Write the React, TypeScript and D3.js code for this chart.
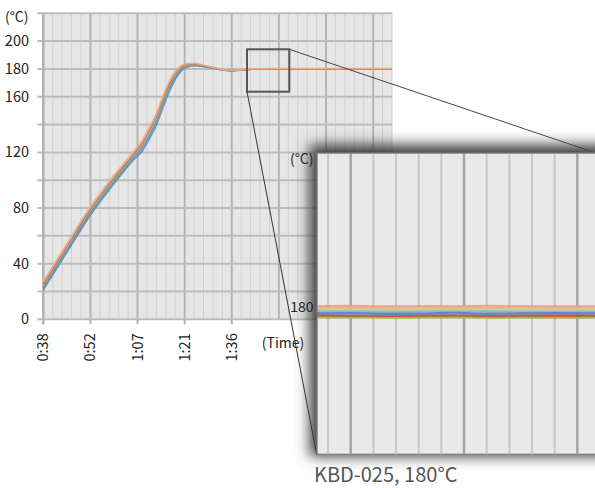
import React from "react";
import * as d3 from "d3";

// ---------- main chart data ----------
const times = [38, 45, 52, 59, 66, 68.5, 70.5, 72.5, 74.5, 76.5, 78.5, 80.5, 82.5, 84.5, 87, 90, 93, 96, 99, 102, 110, 120, 130, 145.3];
const sBlue = [21, 47, 73, 95, 115, 121, 129, 138, 150, 162, 172, 178.5, 181.5, 182.3, 181.8, 180.6, 179.3, 178.7, 179.1, 179.7, 179.9, 179.9, 179.9, 179.9];
const sAqua = [22, 48, 74, 96, 116, 122.5, 130.5, 139.5, 151.5, 163.5, 173, 179.2, 181.9, 182.6, 182, 180.7, 179.3, 178.7, 179.1, 179.8, 180, 180, 180, 180];
const sPurple = [23, 49, 75, 97, 117, 124, 132, 141, 153, 165, 174, 180, 182.2, 182.8, 182.1, 180.7, 179.4, 178.8, 179.2, 179.8, 180, 180, 180, 180];
const sGreen = [24, 50, 76, 98, 118, 125, 133, 142, 154, 166, 175, 180.5, 182.5, 183, 182.2, 180.8, 179.4, 178.8, 179.2, 179.8, 180, 180, 180, 180];
const sGray = [25, 51, 77, 99, 119, 126, 134.5, 143.5, 155.5, 167.5, 176, 181, 182.8, 183.3, 182.4, 180.9, 179.5, 178.9, 179.3, 179.9, 180.1, 180.1, 180.1, 180.1];
const sRed = [25.5, 51.5, 77.5, 99.5, 119.5, 127, 135.5, 144.5, 156.5, 168, 176.5, 181.5, 183.2, 183.5, 182.5, 181, 179.5, 178.9, 179.3, 179.9, 180.1, 180.1, 180.1, 180.1];
const sTan = [26.5, 52.5, 78.5, 100.5, 120.5, 128, 136.5, 145.5, 157.5, 169, 177.2, 182, 183.6, 183.8, 182.7, 181.1, 179.6, 179, 179.4, 180, 180.2, 180.2, 180.2, 180.2];
const sOrange = [27.5, 53.5, 79.5, 101.5, 121.5, 129, 137.5, 146.5, 158.5, 170, 178, 182.5, 184, 184.2, 183, 181.2, 179.7, 179.1, 179.5, 180.1, 180.3, 180.3, 180.3, 180.3];
const mainSeries = [
  { color: "#4F81BD", values: sBlue },
  { color: "#4BACC6", values: sAqua },
  { color: "#8064A2", values: sPurple },
  { color: "#9BBB59", values: sGreen },
  { color: "#A5A5A5", values: sGray },
  { color: "#C0504D", values: sRed },
  { color: "#D2B8A0", values: sTan },
  { color: "#F0A878", values: sOrange },
];
const xTickValues = [38, 52.5, 67, 81.5, 96];
const xTickLabels = ["0:38", "0:52", "1:07", "1:21", "1:36"];
const yGridValues = [0, 20, 40, 60, 80, 100, 120, 140, 160, 180, 200, 220];
const yTickLabels = [0, 40, 80, 120, 160, 180, 200];

// ---------- inset data ----------
const insetX = [0, 1.5, 3, 4.5, 6, 7.5, 9, 10.5, 12.5];
const iSalmon = [180.015, 180.02, 180.012, 180.018, 180.014, 180.02, 180.016, 180.012, 180.015];
const iOrange = [180.0, 180.005, 179.998, 180.004, 180.0, 179.996, 180.004, 180.0, 180.002];
const iTan = [179.985, 179.99, 179.982, 179.988, 179.984, 179.99, 179.982, 179.986, 179.984];
const iLightGreen = [179.97, 179.966, 179.972, 179.968, 179.974, 179.966, 179.97, 179.968, 179.972];
const iGray = [179.955, 179.95, 179.958, 179.952, 179.956, 179.95, 179.954, 179.958, 179.952];
const iLightBlue = [179.94, 179.945, 179.935, 179.942, 179.938, 179.944, 179.936, 179.94, 179.935];
const iBlue = [179.92, 179.925, 179.915, 179.918, 179.926, 179.916, 179.92, 179.925, 179.918];
const iLavender = [179.905, 179.9, 179.91, 179.902, 179.898, 179.908, 179.9, 179.905, 179.9];
const iRed = [179.89, 179.885, 179.882, 179.888, 179.892, 179.884, 179.886, 179.89, 179.885];
const iOrange2 = [179.878, 179.875, 179.88, 179.872, 179.876, 179.874, 179.87, 179.878, 179.875];
const iGreen = [179.86, 179.862, 179.858, 179.86, 179.862, 179.858, 179.86, 179.858, 179.86];
const insetSeries = [
  { color: "#9D8EC6", values: iLavender },
  { color: "#AAAAAA", values: iGray },
  { color: "#B8D48E", values: iLightGreen },
  { color: "#D9C48E", values: iTan },
  { color: "#8DB4E2", values: iLightBlue },
  { color: "#4F81BD", values: iBlue },
  { color: "#E46C0A", values: iOrange2 },
  { color: "#C0504D", values: iRed },
  { color: "#F4B183", values: iOrange },
  { color: "#E8A090", values: iSalmon },
  { color: "#9BBB59", values: iGreen },
];
const insetGrid = [0.5, 1.5, 2.5, 3.5, 4.5, 5.5, 6.5, 7.5, 8.5, 9.5, 10.5, 11.5, 12.5];
const insetMajor = [1.5, 6.5, 11.5];

const FONT = "'Noto Sans CJK JP', 'Noto Sans', sans-serif";

export default function App() {
  const W = 595, H = 488;
  const L = 43.3, R = 392, T = 13.3, B = 319.3;
  const x = d3.scaleLinear().domain([38, 145.3]).range([L, R]);
  const y = d3.scaleLinear().domain([0, 220]).range([B, T]);
  const minorStep = 2.9;
  const minorX = d3.range(0, 38).map((k) => 38 + k * minorStep);

  const line = d3
    .line<number>()
    .x((_, i) => x(times[i]))
    .y((d) => y(d))
    .curve(d3.curveMonotoneX);

  // inset
  const iL = 316.7, iT = 152.7, iB = 454.3, iR = 600;
  const ix = d3.scaleLinear().domain([0, 12.5]).range([iL, iR]);
  const iy = d3.scaleLinear().domain([178.05, 182.05]).range([iB, iT]);
  const iline = d3
    .line<number>()
    .x((_, i) => ix(insetX[i]))
    .y((d) => iy(d))
    .curve(d3.curveMonotoneX);

  // zoom box in main chart
  const bx0 = 247, bx1 = 289.3, by0 = 49.3, by1 = 91.7;

  return (
    <svg
      width={W}
      height={H}
      style={{ position: "absolute", left: 0, top: 0, background: "#fff" }}
      fontFamily={FONT}
    >
      <defs>
        <filter id="shadow" x="-20%" y="-20%" width="140%" height="140%">
          <feGaussianBlur stdDeviation="7" />
        </filter>
      </defs>
      {/* main plot background */}
      <rect x={L} y={T} width={R - L} height={B - T} fill="#e6e6e6" />
      {minorX.map((v, k) => (
        <line
          key={"mx" + k}
          x1={x(v)}
          x2={x(v)}
          y1={T}
          y2={B}
          stroke={k % 5 === 0 ? "#b4b4b4" : "#d0d0d0"}
          strokeWidth={k % 5 === 0 ? 2 : 1}
        />
      ))}
      {yGridValues.map((v) => (
        <line key={"yg" + v} x1={L - 6} x2={R} y1={y(v)} y2={y(v)} stroke="#bcbcbc" strokeWidth={2} />
      ))}
      <line x1={L} x2={L} y1={T} y2={B + 5} stroke="#b0b0b0" strokeWidth={2} />
      {xTickValues.map((v) => (
        <line key={"xt" + v} x1={x(v)} x2={x(v)} y1={B} y2={B + 5} stroke="#b0b0b0" strokeWidth={2} />
      ))}
      {/* series */}
      {mainSeries.map((s, i) => (
        <path key={"ms" + i} d={line(s.values) || ""} fill="none" stroke={s.color} strokeWidth={1.4} strokeOpacity={0.8} />
      ))}
      {/* labels */}
      <text x={28.5} y={22} fontSize={14} textAnchor="end" fill="#222">(°C)</text>
      {yTickLabels.map((v) => (
        <text key={"yl" + v} x={29} y={y(v)} dy="0.35em" fontSize={14.5} textAnchor="end" fill="#222">
          {v}
        </text>
      ))}
      {xTickValues.map((v, i) => (
        <text
          key={"xl" + v}
          transform={`translate(${x(v)},${B + 14}) rotate(-90)`}
          dy="0.35em"
          fontSize={14.5}
          textAnchor="end"
          fill="#222"
        >
          {xTickLabels[i]}
        </text>
      ))}
      <text x={283} y={343} dy="0.35em" fontSize={14} textAnchor="middle" fill="#222">(Time)</text>
      {/* zoom box */}
      <rect x={bx0} y={by0} width={bx1 - bx0} height={by1 - by0} fill="none" stroke="#555" strokeWidth={2} />
      {/* inset shadow */}
      <rect x={iL - 7} y={iT - 8} width={iR - iL + 20} height={iB - iT + 10} fill="#3a3a3a" filter="url(#shadow)" />
      {/* connectors */}
      <line x1={bx1} y1={by0} x2={iR} y2={iT + 1.7} stroke="#444" strokeWidth={1} />
      <line x1={bx0} y1={by1} x2={iL} y2={iB} stroke="#333" strokeWidth={1} />
      {/* inset panel */}
      <rect x={iL} y={iT} width={iR - iL} height={iB - iT} fill="#e9e9e9" stroke="#7a7a7a" strokeWidth={1.2} />
      {insetGrid.map((v) => {
        const major = insetMajor.includes(v);
        return (
          <line
            key={"ig" + v}
            x1={ix(v)}
            x2={ix(v)}
            y1={iT}
            y2={iB}
            stroke={major ? "#a4a4a4" : "#c8c8c8"}
            strokeWidth={major ? 2.5 : 2}
          />
        );
      })}
      {insetSeries.map((s, i) => (
        <path key={"is" + i} d={iline(s.values) || ""} fill="none" stroke={s.color} strokeWidth={2} strokeOpacity={0.9} />
      ))}
      <line x1={iL} x2={iL} y1={iT} y2={iB} stroke="#6a6a6a" strokeWidth={1.5} />
      <line x1={iL} x2={iR} y1={iT} y2={iT} stroke="#6a6a6a" strokeWidth={1.5} />
      <text x={313.5} y={159} dy="0.35em" fontSize={14} textAnchor="end" fill="#222">(°C)</text>
      <text x={313.5} y={iy(180)} dy="0.35em" fontSize={14} textAnchor="end" fill="#222">180</text>
      <text x={314} y={482} fontSize={20} fill="#555">KBD-025, 180°C</text>
    </svg>
  );
}
